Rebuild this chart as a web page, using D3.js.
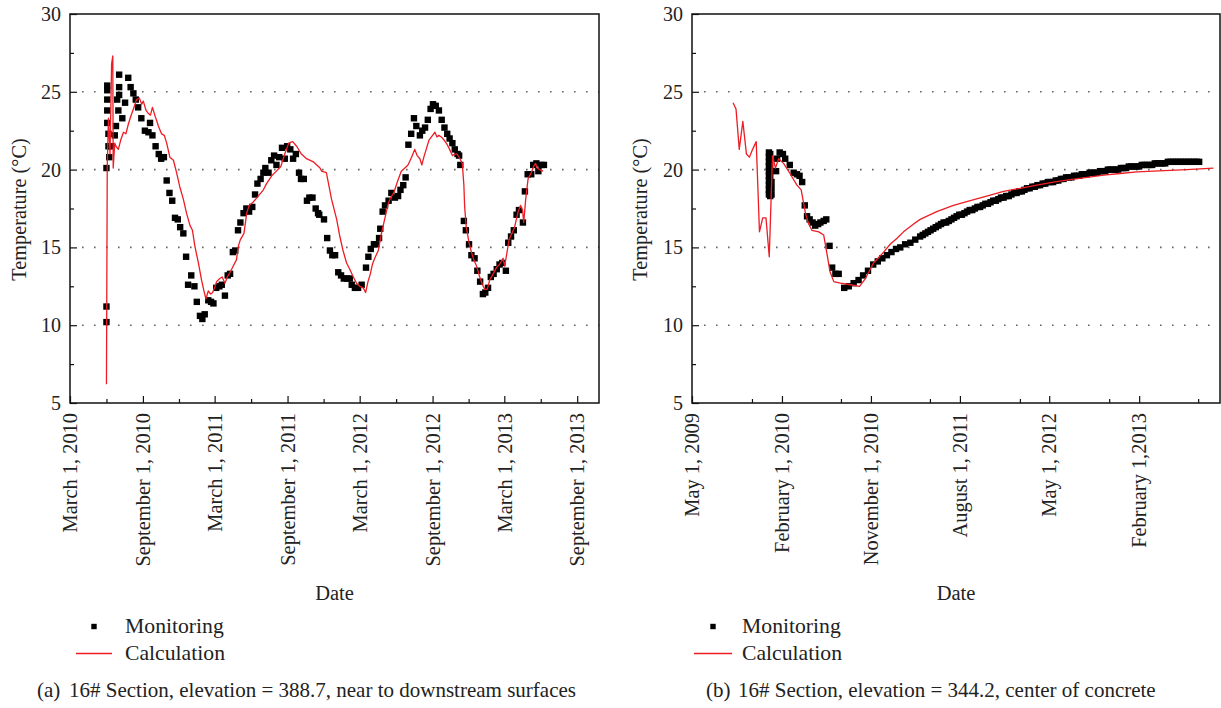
<!DOCTYPE html>
<html>
<head>
<meta charset="utf-8">
<script src="https://cdn.jsdelivr.net/npm/d3@7"></script>
<style>
body { margin: 0; background: #fff; }
text { font-family: "Liberation Serif", "Times New Roman", serif; fill: #222; }
</style>
</head>
<body>
<div id="vis"></div>
<script>
/*
	Measured vs calculated concrete temperature, 16# section
	two panels: (a) near downstream surface, (b) center of concrete
*/

// ---- data: [days after panel start date, temperature] ----

var startA = new Date(2010, 2, 1);   // March 1, 2010
var endA = new Date(2013, 9, 26);
var tickDatesA = ['2010-03-01', '2010-09-01', '2011-03-01', '2011-09-01', '2012-03-01', '2012-09-01', '2013-03-01', '2013-09-01'];
var tickLabelsA = ['March 1, 2010', 'September 1, 2010', 'March 1, 2011', 'September 1, 2011', 'March 1, 2012', 'September 1, 2012', 'March 1, 2013', 'September 1, 2013'];
var minorDatesA = ['2010-06-01', '2010-12-01', '2011-06-01', '2011-12-01', '2012-06-01', '2012-12-01', '2013-06-01'];

var monitoringA = [
	[92,10.2],[92,11.2],[92,20.1],[94,25.4],[94,25.1],[94,24.5],[94,23.8],[94,23.0],[97,22.3],[97,21.5],
	[99,20.8],[103,21.5],[113,22.2],[116,22.8],[122,23.8],[119,24.5],[124,24.8],[124,25.3],[124,26.1],[132,23.3],
	[139,24.3],[147,25.9],[153,25.3],[160,24.9],[166,24.5],[172,24.0],[180,23.3],[189,22.5],[198,22.4],[202,23.0],
	[208,22.2],[216,21.5],[224,21.0],[230,20.7],[237,20.8],[244,19.3],[251,18.5],[258,18.0],[265,16.9],[272,16.8],
	[278,16.3],[286,15.9],[293,14.4],[298,12.6],[306,13.2],[314,12.5],[320,11.5],[328,10.6],[334,10.4],[340,10.7],
	[349,11.6],[356,11.5],[362,11.4],[369,12.4],[377,12.5],[383,12.6],[391,11.9],[398,13.2],[404,13.3],[411,14.7],
	[417,14.8],[424,16.1],[430,16.6],[438,17.2],[445,17.5],[452,17.3],[460,17.6],[467,18.4],[473,19.1],[481,19.4],
	[488,19.8],[493,20.1],[501,19.8],[508,20.6],[515,20.9],[521,20.3],[528,20.8],[535,21.4],[542,20.7],[548,21.5],
	[556,21.3],[563,20.7],[570,21.0],[578,19.8],[583,19.4],[590,19.4],[598,18.0],[604,18.2],[612,18.2],[620,17.5],
	[626,17.2],[629,17.1],[641,16.8],[649,15.6],[656,14.8],[662,14.5],[669,14.5],[677,13.4],[684,13.2],[691,13.0],
	[699,13.0],[706,13.0],[711,12.6],[719,12.4],[727,12.4],[736,12.6],[747,13.7],[753,14.4],[759,14.9],[767,15.2],
	[773,15.2],[780,15.6],[783,16.2],[789,17.3],[795,17.7],[804,18.0],[811,18.5],[820,18.2],[828,18.3],[834,18.7],
	[841,19.0],[847,19.5],[854,21.6],[861,22.3],[868,23.3],[874,22.8],[883,22.2],[889,22.5],[896,22.7],[903,23.2],
	[910,23.9],[916,24.2],[923,24.1],[931,23.8],[938,23.2],[945,22.7],[952,22.3],[958,22.0],[965,21.7],[971,21.3],
	[978,21.0],[982,20.9],[985,20.3],[994,16.7],[999,16.1],[1007,15.2],[1013,14.5],[1021,14.3],[1028,13.5],[1035,12.8],
	[1042,12.0],[1048,12.1],[1055,12.4],[1062,13.1],[1069,13.3],[1077,13.6],[1084,13.9],[1091,14.0],[1100,13.5],[1106,15.3],
	[1113,15.7],[1120,16.1],[1127,17.1],[1133,17.4],[1143,16.6],[1148,18.6],[1155,19.7],[1164,19.7],[1169,20.3],[1177,20.4],
	[1182,19.9],[1190,20.3],[1196,20.3]
];

var calculationA = [
	[92,6.2],[94,20.2],[97,23.3],[101,21.0],[105,26.8],[108,27.3],[109,20.1],[113,21.7],[116,21.5],[122,21.3],
	[128,21.9],[135,22.4],[141,22.3],[147,22.9],[153,23.4],[160,23.9],[168,24.5],[175,24.6],[181,24.2],[185,24.4],
	[192,23.8],[198,23.6],[203,23.5],[208,24.0],[214,23.5],[223,22.8],[231,22.3],[238,22.2],[244,21.7],[252,20.8],
	[261,20.6],[269,19.8],[277,18.9],[286,18.1],[294,17.2],[303,16.4],[309,16.1],[315,15.1],[324,14.0],[332,12.9],
	[339,12.1],[343,11.7],[349,12.2],[355,12.0],[360,12.1],[366,12.5],[370,12.8],[378,13.0],[384,13.1],[391,12.7],
	[397,13.1],[404,13.4],[412,13.8],[420,14.2],[425,15.1],[430,15.5],[439,15.9],[446,17.2],[452,17.7],[462,17.9],
	[475,18.3],[488,18.7],[496,19.1],[509,19.6],[521,19.9],[532,20.2],[542,21.0],[552,21.7],[562,21.8],[572,21.5],
	[584,21.0],[597,20.7],[614,20.5],[631,20.1],[635,19.9],[647,19.8],[660,18.1],[673,16.8],[681,15.7],[689,14.8],
	[698,14.0],[706,13.6],[715,13.1],[723,12.7],[731,12.5],[740,12.4],[746,12.1],[752,12.8],[758,13.3],[763,13.9],
	[769,14.3],[778,14.8],[786,15.9],[794,16.8],[803,17.8],[809,18.2],[817,18.5],[826,19.2],[836,19.9],[845,20.1],
	[853,20.3],[862,20.8],[870,21.3],[876,20.9],[883,20.7],[888,20.3],[893,20.8],[900,21.4],[906,21.9],[915,22.2],
	[921,22.4],[926,22.1],[931,22.2],[937,22.1],[944,21.9],[952,21.6],[958,21.3],[965,20.9],[971,21.0],[977,21.0],
	[984,20.7],[990,20.4],[994,19.0],[996,17.6],[1000,16.3],[1007,15.3],[1013,14.7],[1019,14.2],[1026,13.8],[1034,13.1],
	[1041,12.6],[1047,12.3],[1053,12.3],[1059,12.9],[1068,13.3],[1076,13.7],[1084,13.9],[1093,14.3],[1097,13.8],[1101,14.4],
	[1108,15.5],[1115,15.9],[1122,16.3],[1131,17.3],[1137,17.7],[1142,17.4],[1145,16.6],[1150,18.1],[1156,19.4],[1164,19.8],
	[1170,20.2],[1175,20.4],[1179,20.1],[1185,20.0],[1194,19.9]
];

var startB = new Date(2009, 4, 1);   // May 1, 2009
var endB = new Date(2013, 9, 7);
var tickDatesB = ['2009-05-01', '2010-02-01', '2010-11-01', '2011-08-01', '2012-05-01', '2013-02-01'];
var tickLabelsB = ['May 1, 2009', 'February 1, 2010', 'November 1, 2010', 'August 1, 2011', 'May 1, 2012', 'February 1,2013'];
var minorDatesB = ['2009-11-01', '2010-08-01', '2011-05-01', '2012-02-01', '2012-11-01', '2013-08-01'];

var monitoringB = [
	[236,21.1],[236,20.8],[236,20.5],[236,20.2],[236,19.9],[236,19.6],[236,19.3],[236,19.0],[236,18.7],[236,18.4],
	[240,21.0],[240,20.6],[240,20.2],[240,19.8],[240,19.4],[240,19.0],[240,18.6],[240,18.3],
	[244,19.2],[244,18.8],[244,18.4],
	[258,19.9],[261,20.7],[269,21.1],[279,21.0],[286,20.7],[300,20.3],[312,19.8],[322,19.7],[330,19.6],[338,19.2],
	[346,17.7],[353,17.0],[361,16.8],[370,16.6],[378,16.4],[387,16.5],[394,16.6],[404,16.7],[412,16.8],[422,15.1],
	[430,13.7],[440,13.3],[450,13.3],[467,12.4],[481,12.5],[496,12.7],[511,12.9],[525,13.2],[540,13.5],[556,13.9],
	[570,14.1],[584,14.3],[598,14.5],[612,14.7],[626,14.9],[639,15.0],[654,15.2],[670,15.3],[685,15.5],[700,15.7],
	[708,15.8],[716,15.9],[724,16.0],[732,16.1],[740,16.2],[748,16.3],[756,16.4],[764,16.5],[772,16.6],[780,16.6],
	[788,16.7],[796,16.8],[804,16.9],[812,17.0],[820,17.1],[828,17.1],[836,17.2],[844,17.3],[852,17.4],[860,17.4],
	[868,17.5],[876,17.6],[884,17.6],[892,17.7],[900,17.8],[908,17.8],[916,17.9],[924,18.0],[932,18.0],[940,18.1],
	[948,18.2],[956,18.2],[964,18.3],[972,18.3],[980,18.4],[988,18.5],[996,18.5],[1004,18.6],[1012,18.6],[1020,18.7],
	[1028,18.8],[1036,18.8],[1044,18.9],[1052,18.9],[1060,19.0],[1068,19.0],[1076,19.1],[1084,19.1],[1092,19.2],[1100,19.2],
	[1108,19.2],[1116,19.3],[1124,19.3],[1132,19.4],[1140,19.4],[1148,19.5],[1156,19.5],[1164,19.5],[1172,19.6],[1180,19.6],
	[1188,19.6],[1196,19.7],[1204,19.7],[1212,19.7],[1220,19.8],[1228,19.8],[1236,19.8],[1244,19.8],[1252,19.9],[1260,19.9],
	[1268,19.9],[1276,20.0],[1284,20.0],[1292,20.0],[1300,20.0],[1308,20.0],[1316,20.1],[1324,20.1],[1332,20.1],[1340,20.2],
	[1348,20.2],[1356,20.2],[1364,20.2],[1372,20.2],[1380,20.3],[1388,20.3],[1396,20.3],[1404,20.3],[1412,20.3],[1420,20.4],
	[1428,20.4],[1436,20.4],[1444,20.4],[1452,20.4],[1460,20.5],[1468,20.5],[1476,20.5],[1484,20.5],[1492,20.5],[1500,20.5],
	[1508,20.5],[1516,20.5],[1524,20.5],[1532,20.5],[1540,20.5],[1548,20.5],[1556,20.5]
];

var calculationB = [
	[126,24.3],[135,23.9],[145,21.3],[156,23.1],[167,21.0],[176,20.8],[186,21.3],[197,21.8],[207,16.0],[217,16.9],
	[227,16.9],[237,14.4],[247,20.9],[256,20.1],[266,20.7],[281,20.4],[302,19.7],[322,19.0],[335,18.7],[348,17.2],
	[358,16.5],[368,16.1],[389,16.0],[404,15.8],[414,14.6],[424,13.4],[435,12.8],[455,12.7],[486,12.6],[514,12.5],
	[532,13.0],[557,14.0],[588,14.7],[608,15.2],[630,15.6],[649,16.0],[680,16.5],[700,16.8],[751,17.3],[802,17.7],
	[854,18.0],[904,18.3],[956,18.6],[1007,18.8],[1058,19.0],[1109,19.2],[1160,19.35],[1212,19.5],[1263,19.65],[1314,19.75],
	[1365,19.85],[1416,19.9],[1467,19.95],[1518,20.0],[1600,20.1]
];

var yTicks = [5, 10, 15, 20, 25, 30];
var yMinor = [7.5, 12.5, 17.5, 22.5, 27.5];
var yGrid = [10, 15, 20, 25];
var legendNames = ['Monitoring', 'Calculation'];

var RED = '#ee1c24';
var parseDay = d3.timeParse('%Y-%m-%d');

var svg = d3.select('#vis').append('svg')
	.attr('width', 1221)
	.attr('height', 708);

drawPanel({
	left: 70, right: 599, top: 14, bottom: 403,
	start: startA, end: endA,
	ticks: tickDatesA, labels: tickLabelsA, minor: minorDatesA,
	monitoring: monitoringA, calculation: calculationA,
	yTitleX: 19,
	legendX: 70, legendMarker: 24, legendLine: [6, 42], legendText: 55,
	captionTag: '(a)', captionX: 37,
	caption: '16# Section, elevation = 388.7, near to downstream surfaces'
});

drawPanel({
	left: 692, right: 1220, top: 14, bottom: 403,
	start: startB, end: endB,
	ticks: tickDatesB, labels: tickLabelsB, minor: minorDatesB,
	monitoring: monitoringB, calculation: calculationB,
	yTitleX: 640,
	legendX: 692, legendMarker: 21, legendLine: [2, 40], legendText: 50,
	captionTag: '(b)', captionX: 706,
	caption: '16# Section, elevation = 344.2, center of concrete'
});

function drawPanel(p) {
	var g = svg.append('g');

	var x = d3.scaleTime().domain([p.start, p.end]).range([p.left, p.right]);
	var y = d3.scaleLinear().domain([5, 30]).range([p.bottom, p.top]);

	function toDate(d) { return d3.timeDay.offset(p.start, d[0]); }

	// dotted grid
	g.selectAll('.grid').data(yGrid).enter().append('line')
		.attr('x1', p.left + 12).attr('x2', p.right)
		.attr('y1', function(d) { return y(d); })
		.attr('y2', function(d) { return y(d); })
		.attr('stroke', '#666')
		.attr('stroke-width', 1.6)
		.attr('stroke-dasharray', '1.6,10.4');

	// minor ticks
	var xMinor = d3.axisBottom(x).tickValues(p.minor.map(parseDay)).tickSize(-4).tickFormat('');
	g.append('g').attr('transform', 'translate(0,' + p.bottom + ')').call(xMinor)
		.call(function(a) { a.select('.domain').remove(); });
	var yMin = d3.axisLeft(y).tickValues(yMinor).tickSize(-4).tickFormat('');
	g.append('g').attr('transform', 'translate(' + p.left + ',0)').call(yMin)
		.call(function(a) { a.select('.domain').remove(); });

	// x axis with rotated date labels
	var xAxis = d3.axisBottom(x)
		.tickValues(p.ticks.map(parseDay))
		.tickSize(-7)
		.tickFormat(function(d, i) { return p.labels[i]; });
	var xa = g.append('g').attr('transform', 'translate(0,' + p.bottom + ')').call(xAxis);
	xa.select('.domain').remove();
	xa.selectAll('text')
		.attr('transform', 'rotate(-90)')
		.attr('text-anchor', 'end')
		.attr('x', -10)
		.attr('y', 0)
		.attr('dy', '0.33em')
		.style('font-size', '20.4px')
		.style('font-family', '"Liberation Serif", serif')
		.attr('fill', '#222');

	// y axis
	var yAxis = d3.axisLeft(y).tickValues(yTicks).tickSize(-7).tickPadding(9);
	var ya = g.append('g').attr('transform', 'translate(' + p.left + ',0)').call(yAxis);
	ya.select('.domain').remove();
	ya.selectAll('text')
		.style('font-size', '20px')
		.style('font-family', '"Liberation Serif", serif')
		.attr('fill', '#222');

	g.selectAll('.tick line').attr('stroke', '#111').attr('stroke-width', 1.2);

	// frame
	g.append('rect')
		.attr('x', p.left).attr('y', p.top)
		.attr('width', p.right - p.left).attr('height', p.bottom - p.top)
		.attr('fill', 'none')
		.attr('stroke', '#111')
		.attr('stroke-width', 1.5);

	// monitoring squares
	var s = 6.4;
	g.selectAll('.mon').data(p.monitoring).enter().append('rect')
		.attr('x', function(d) { return x(toDate(d)) - s / 2; })
		.attr('y', function(d) { return y(d[1]) - s / 2; })
		.attr('width', s).attr('height', s)
		.attr('fill', '#000');

	// calculation line
	var line = d3.line()
		.x(function(d) { return x(toDate(d)); })
		.y(function(d) { return y(d[1]); });
	g.append('path')
		.datum(p.calculation)
		.attr('d', line)
		.attr('fill', 'none')
		.attr('stroke', RED)
		.attr('stroke-width', 1.3)
		.attr('stroke-linejoin', 'round');

	// titles
	g.append('text')
		.attr('transform', 'translate(' + p.yTitleX + ',' + ((p.top + p.bottom) / 2 + 1) + ') rotate(-90)')
		.attr('text-anchor', 'middle')
		.attr('dy', '0.35em')
		.style('font-size', '20.3px')
		.text('Temperature (°C)');
	g.append('text')
		.attr('x', (p.left + p.right) / 2)
		.attr('y', 600)
		.attr('text-anchor', 'middle')
		.style('font-size', '20.5px')
		.text('Date');

	// legend
	var lx = p.legendX;
	g.append('rect')
		.attr('x', lx + p.legendMarker - 2.7).attr('y', 626.5 - 2.7)
		.attr('width', 5.4).attr('height', 5.4)
		.attr('fill', '#000');
	g.append('line')
		.attr('x1', lx + p.legendLine[0]).attr('x2', lx + p.legendLine[1])
		.attr('y1', 653.5).attr('y2', 653.5)
		.attr('stroke', RED).attr('stroke-width', 1.3);
	g.selectAll('.legtext').data(legendNames).enter().append('text')
		.attr('x', lx + p.legendText)
		.attr('y', function(d, i) { return 632.5 + i * 27; })
		.style('font-size', '21.7px')
		.text(function(d) { return d; });

	// caption
	g.append('text')
		.attr('x', p.captionX).attr('y', 697)
		.style('font-size', '21px')
		.text(p.captionTag);
	g.append('text')
		.attr('x', p.captionX + 32).attr('y', 697)
		.style('font-size', '21px')
		.text(p.caption);
}
</script>
</body>
</html>
